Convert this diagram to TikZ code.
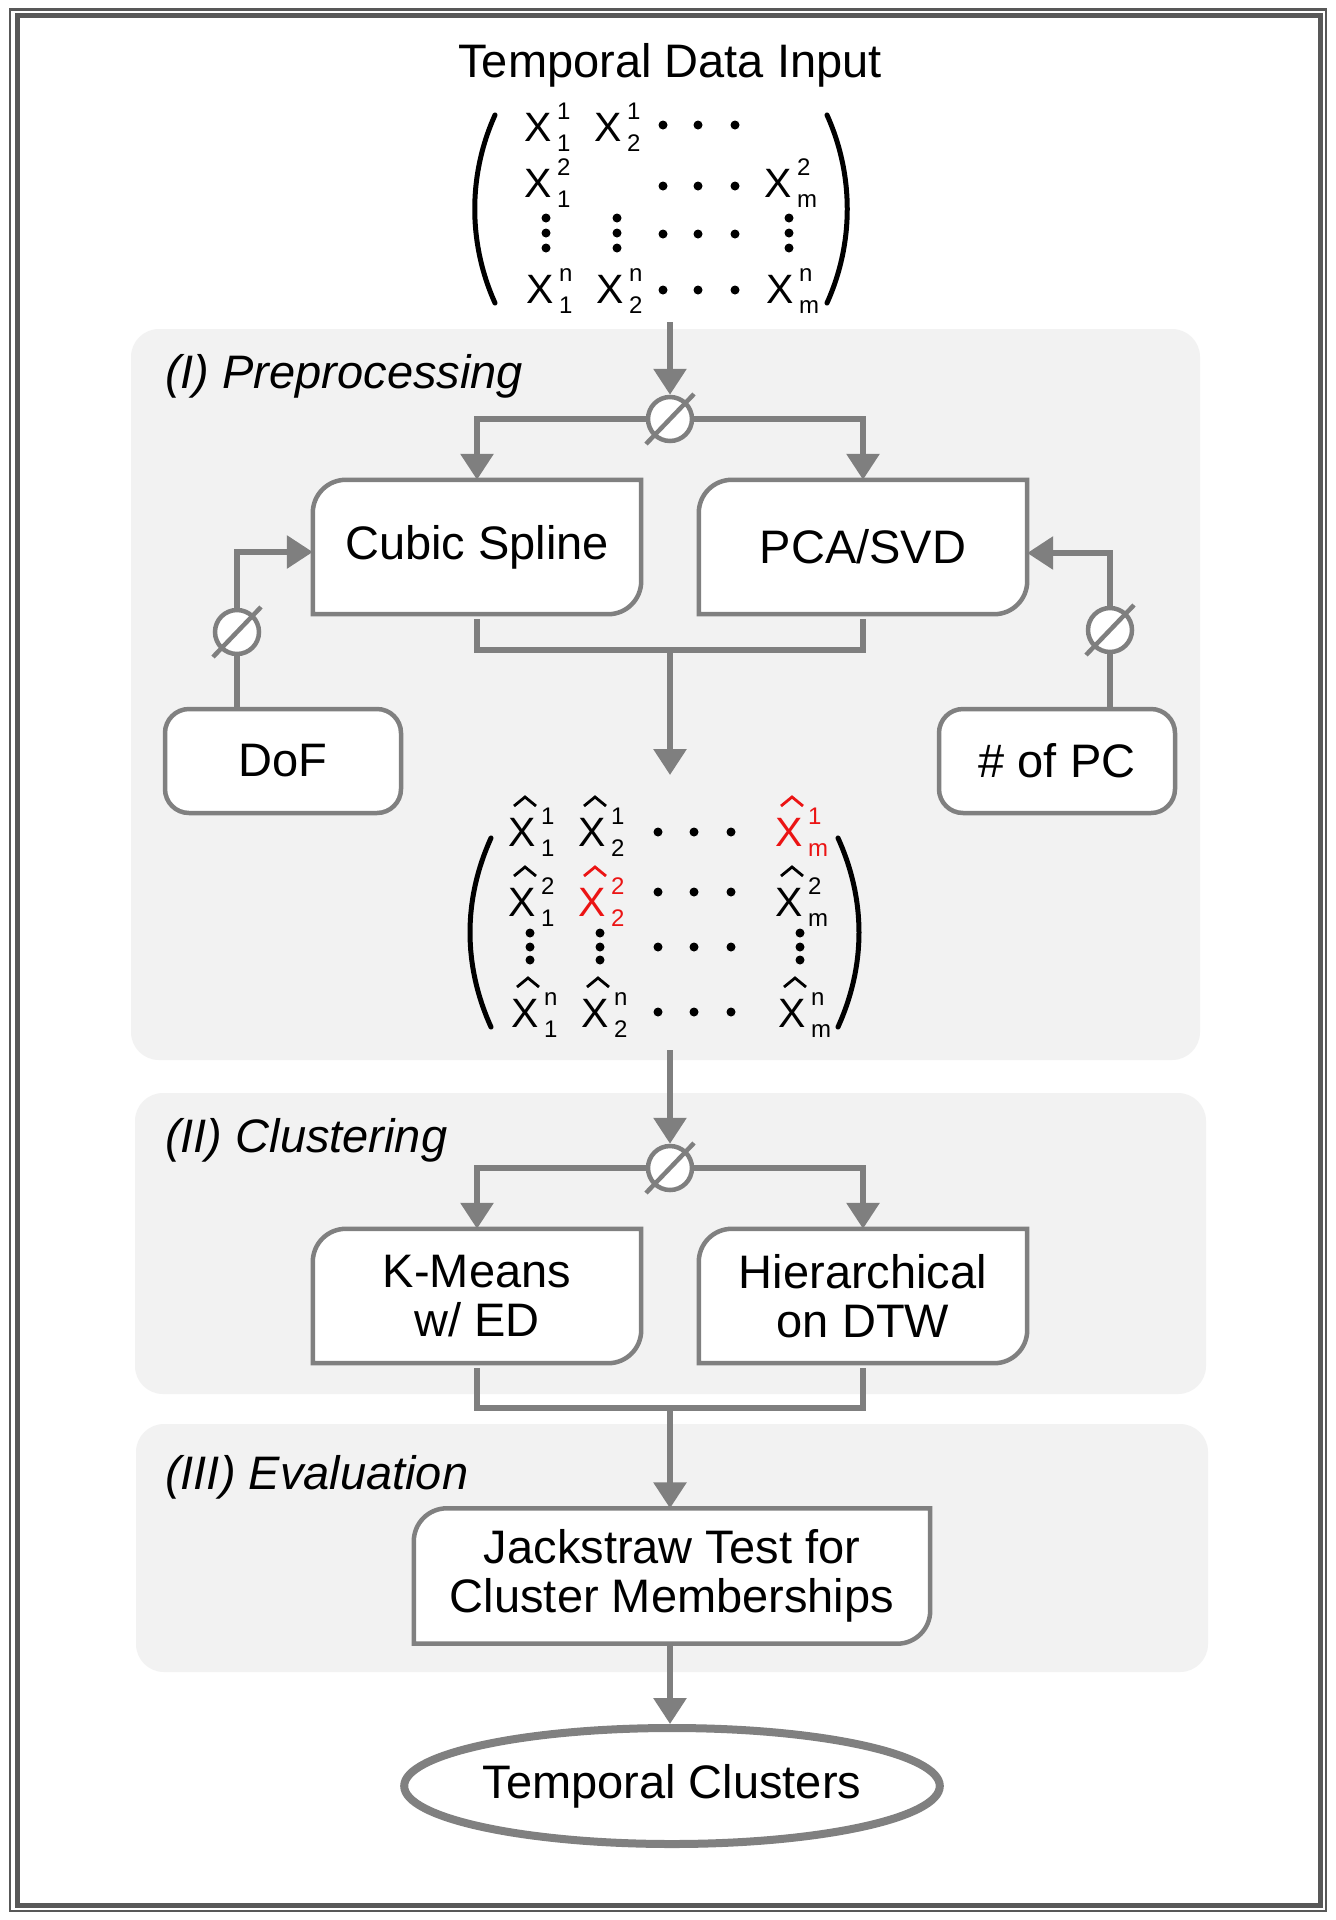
\documentclass[tikz,border=0pt]{standalone}
\usepackage{fontspec}
\setmainfont{Liberation Sans}
\usetikzlibrary{arrows.meta,shapes.geometric}
\definecolor{connc}{RGB}{127,127,127}
\definecolor{bordc}{RGB}{128,128,128}
\definecolor{panelc}{RGB}{242,242,242}
\definecolor{framec}{RGB}{88,88,88}
\definecolor{redx}{RGB}{235,20,20}
\pgfdeclarelayer{panel}
\pgfdeclarelayer{shape}
\pgfsetlayers{panel,shape,main}
\newcommand{\mainf}{\fontsize{47}{49}\selectfont}
\newcommand{\tlbr}[2]{%
  \begin{pgfonlayer}{shape}
  \draw[boxline] (#1.south west) -- ([yshift=-#2]#1.north west)
    arc[start angle=180,end angle=90,radius=#2] -- (#1.north east)
    -- ([yshift=#2]#1.south east) arc[start angle=0,end angle=-90,radius=#2] -- cycle;
  \end{pgfonlayer}}
\newcommand{\mentry}[7]{%
  \node[xglyph,text=#6] (#1) at (#2,#3) {X};
  \node[ssglyph,text=#6] (#1sup) at (#2+19,#3-8) {#5};
  \node[ssglyph,text=#6] (#1sub) at (#2+19,#3+24) {#4};
  \ifnum#7=1 \draw[hatline,draw=#6] (#2-8,#3-26) -- (#2+3,#3-35) -- (#2+14,#3-26);\fi}
\newcommand{\mdot}[2]{\fill (#1,#2) circle[radius=4.5pt];}
\begin{document}
\begin{tikzpicture}[x=1pt,y=-1pt,
  xglyph/.style={inner sep=0pt,font=\fontsize{41}{41}\selectfont},
  ssglyph/.style={inner sep=0pt,anchor=base west,font=\fontsize{24}{24}\selectfont},
  hatline/.style={line width=2.8pt,line join=miter},
  paren/.style={line width=5pt,line cap=round},
  boxline/.style={draw=bordc,line width=4.5pt,fill=white},
  procbox/.style={inner sep=0pt,minimum width=328pt,minimum height=134pt,align=center,font=\mainf},
  parbox/.style={draw=bordc,line width=4.5pt,fill=white,rounded corners=24pt,inner sep=0pt,
    minimum width=236pt,minimum height=104pt,font=\mainf},
  nullc/.style={circle,draw=connc,line width=4.5pt,fill=white,minimum size=44pt,inner sep=0pt},
  slash/.style={draw=connc,line width=4.5pt},
  conn/.style={draw=connc,line width=6pt,line join=miter},
  arr/.style={conn,-{Triangle[length=26pt,width=32pt]}},
  panel/.style={fill=panelc,rounded corners=28pt},
  plabel/.style={inner sep=0pt,anchor=base west,font=\mainf\itshape},
]
\useasboundingbox (0,0) rectangle (1336,1920);
\begin{pgfonlayer}{panel}
\fill[white] (0,0) rectangle (1336,1920);
\fill[panel] (131,329) rectangle (1200,1060);
\fill[panel] (135,1093) rectangle (1206,1394);
\fill[panel] (136,1424) rectangle (1208,1672);
\end{pgfonlayer}
% frame
\draw[framec,line width=2.5pt] (10,9.5) rectangle (1326,1911);
\draw[framec,line width=5pt] (17.5,15.5) rectangle (1320.5,1905.5);
\node[plabel] (lab1) at (165,388) {(I) Preprocessing};
\node[plabel] (lab2) at (165,1152) {(II) Clustering};
\node[plabel] (lab3) at (165,1489) {(III) Evaluation};
% title
\node[inner sep=0pt,anchor=base,font=\mainf] (title) at (670,77) {Temporal Data Input};
% matrix 1
\draw[paren] (495,115) .. controls (468,175) and (468,243) .. (495,303);
\draw[paren] (827,115) .. controls (854,175) and (854,243) .. (827,303);
\mentry{a11}{538}{127}{1}{1}{black}{0}
\mentry{a12}{608}{127}{2}{1}{black}{0}
\mentry{a21}{538}{183}{1}{2}{black}{0}
\mentry{a2m}{778}{183}{m}{2}{black}{0}
\mentry{an1}{540}{289}{1}{n}{black}{0}
\mentry{an2}{610}{289}{2}{n}{black}{0}
\mentry{anm}{780}{289}{m}{n}{black}{0}
\foreach \xx in {663,698,735}{\mdot{\xx}{125}\mdot{\xx}{186}\mdot{\xx}{234}\mdot{\xx}{290}}
\foreach \xx in {546,617,789}{\mdot{\xx}{218}\mdot{\xx}{233}\mdot{\xx}{248}}
\coordinate (m1b) at (670,322);
% preprocessing
\node[nullc] (cp) at (670,419) {};
\draw[slash] ([shift={(-24pt,-25pt)}]cp.center) -- ([shift={(24pt,25pt)}]cp.center);
\node[procbox] (cs) at (477,547) {Cubic Spline};
\node[procbox] (pca) at (863,547) {PCA/SVD};
\tlbr{cs}{33pt}
\tlbr{pca}{33pt}
\node[parbox] (dof) at (283,761) {DoF};
\node[parbox] (npc) at (1057,761) {\# of PC};
\node[nullc] (cdof) at (237,632) {};
\draw[slash] ([shift={(-24pt,-25pt)}]cdof.center) -- ([shift={(24pt,25pt)}]cdof.center);
\node[nullc] (cpc) at (1110,630) {};
\draw[slash] ([shift={(-24pt,-25pt)}]cpc.center) -- ([shift={(24pt,25pt)}]cpc.center);
\draw[arr] (m1b) -- (cp.north);
\draw[arr] (cp.west) -| (cs.north);
\draw[arr] (cp.east) -| (pca.north);
\draw[conn] (dof.north -| cdof) -- (cdof.south);
\draw[arr] (cdof.north) |- ([yshift=-5pt]cs.west);
\draw[conn] (npc.north -| cpc) -- (cpc.south);
\draw[arr] (cpc.north) |- ([yshift=-6pt]pca.east);
\coordinate (mg1) at (670,650);
\coordinate (m2t) at (670,775);
\draw[conn] ([yshift=-5pt]cs.south) |- (mg1) -| ([yshift=-5pt]pca.south);
\draw[arr] (mg1) -- (m2t);
% matrix 2
\draw[paren] (491,838) .. controls (463,900) and (463,965) .. (491,1027);
\draw[paren] (838,838) .. controls (866,900) and (866,965) .. (838,1027);
\mentry{b11}{522}{832}{1}{1}{black}{1}
\mentry{b12}{592}{832}{2}{1}{black}{1}
\mentry{b1m}{789}{832}{m}{1}{redx}{1}
\mentry{b21}{522}{902}{1}{2}{black}{1}
\mentry{b22}{592}{902}{2}{2}{redx}{1}
\mentry{b2m}{789}{902}{m}{2}{black}{1}
\mentry{bn1}{525}{1013}{1}{n}{black}{1}
\mentry{bn2}{595}{1013}{2}{n}{black}{1}
\mentry{bnm}{792}{1013}{m}{n}{black}{1}
\foreach \xx in {658,694,731}{\mdot{\xx}{832}\mdot{\xx}{892}\mdot{\xx}{947}\mdot{\xx}{1012}}
\foreach \xx in {530,600,800}{\mdot{\xx}{933}\mdot{\xx}{947}\mdot{\xx}{960}}
\coordinate (m2b) at (670,1050);
% clustering
\node[nullc] (cc) at (670,1168) {};
\draw[slash] ([shift={(-24pt,-25pt)}]cc.center) -- ([shift={(24pt,25pt)}]cc.center);
\node[procbox] (km) at (477,1296) {K-Means\\w/ ED};
\node[procbox] (hc) at (863,1296) {Hierarchical\\on DTW};
\tlbr{km}{33pt}
\tlbr{hc}{33pt}
\draw[arr] (m2b) -- (cc.north);
\draw[arr] (cc.west) -| (km.north);
\draw[arr] (cc.east) -| (hc.north);
\coordinate (mg2) at (670,1408);
\draw[conn] ([yshift=-5pt]km.south) |- (mg2) -| ([yshift=-5pt]hc.south);
% evaluation
\node[procbox,minimum width=516pt,minimum height=135pt] (js) at (672,1576) {Jackstraw Test for\\Cluster Memberships};
\tlbr{js}{33pt}
\draw[arr] (mg2) -- (mg2 |- js.north);
\node[ellipse,draw=bordc,line width=8pt,fill=white,minimum width=524pt,minimum height=116pt,
  inner sep=0pt,font=\mainf] (out) at (672,1786) {Temporal Clusters};
\draw[arr] (js.south -| mg2) -- (mg2 |- out.north);
\end{tikzpicture}
\end{document}
